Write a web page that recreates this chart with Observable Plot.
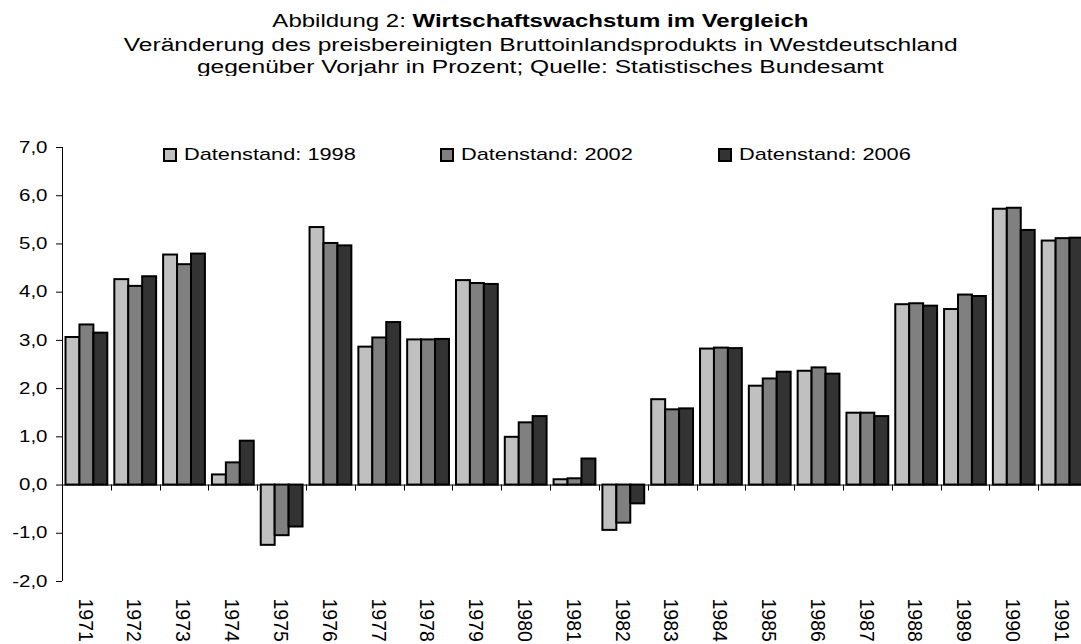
<!DOCTYPE html>
<html><head><meta charset="utf-8">
<script src="https://cdn.jsdelivr.net/npm/d3@7"></script>
<script src="https://cdn.jsdelivr.net/npm/@observablehq/plot@0.6"></script>
<style>
html,body{margin:0;padding:0;background:#fff;overflow:hidden;width:1081px;height:644px;}
body{position:relative;font-family:"Liberation Sans",Arial,sans-serif;color:#000;}
.line{position:absolute;left:0;width:1081px;text-align:center;white-space:nowrap;height:22px;line-height:22px;}
.line span.s{display:inline-block;transform:scaleX(1.28);transform-origin:center;}
#title{top:10px;font-size:18.75px;}
#sub1{top:34px;font-size:19.2px;}
#sub2{top:56px;font-size:19.2px;}
#chart{position:absolute;left:0;top:76px;}
.leg{position:absolute;top:147px;height:16px;display:flex;align-items:center;font-size:17px;white-space:nowrap;}
.leg .sw{width:10px;height:10px;border:2px solid #000;flex:none;}
.leg .tx{display:inline-block;margin-left:7px;transform:scaleX(1.28);transform-origin:left center;}
</style>
</head><body>
<div class="line" id="title"><span class="s">Abbildung 2: <b>Wirtschaftswachstum im Vergleich</b></span></div>
<div class="line" id="sub1"><span class="s">Veränderung des preisbereinigten Bruttoinlandsprodukts in Westdeutschland</span></div>
<div class="line" id="sub2"><span class="s">gegenüber Vorjahr in Prozent; Quelle: Statistisches Bundesamt</span></div>
<div id="chart"></div>
<div id="legend"></div>
<script>
const years = ["1971","1972","1973","1974","1975","1976","1977","1978","1979","1980","1981","1982","1983","1984","1985","1986","1987","1988","1989","1990","1991"];
const series = ["Datenstand: 1998","Datenstand: 2002","Datenstand: 2006"];
const colors = ["#c0c0c0","#808080","#333333"];
const v1998 = [3.06, 4.26, 4.77, 0.21, -1.25, 5.34, 2.86, 3.01, 4.24, 0.99, 0.11, -0.94, 1.77, 2.82, 2.05, 2.36, 1.49, 3.74, 3.64, 5.72, 5.06];
const v2002 = [3.32, 4.12, 4.57, 0.46, -1.05, 5.01, 3.05, 3.01, 4.18, 1.29, 0.13, -0.79, 1.56, 2.84, 2.20, 2.43, 1.49, 3.76, 3.94, 5.74, 5.11];
const v2006 = [3.15, 4.32, 4.79, 0.91, -0.87, 4.96, 3.37, 3.02, 4.16, 1.42, 0.54, -0.39, 1.58, 2.83, 2.34, 2.30, 1.42, 3.71, 3.91, 5.28, 5.12];
const yTicks = [-2, -1, 0, 1, 2, 3, 4, 5, 6, 7];

const values = [v1998, v2002, v2006];
const rows = series.map((s, i) => years.map((yr, j) => ({year: yr, series: s, value: values[i][j]})));

const W = 1088, H = 568, ML = 62, MR = 1, MT = 71, MB = 63;
const step = (W - ML - MR) / years.length;
const pad = 3.5;
const bw = (step - 2 * pad) / 3;
const TS = 1.28;

const frameMark = (index, scales, vals, dims) => {
  const g = d3.create("svg:g").attr("stroke", "#000").attr("stroke-width", 1);
  const x = scales.x, y = scales.y;
  g.append("line").attr("x1", dims.marginLeft + 0.5).attr("x2", dims.marginLeft + 0.5)
    .attr("y1", y(yTicks[yTicks.length - 1])).attr("y2", y(yTicks[0]));
  for (const yr of years.slice(1)) {
    const xx = Math.round(x(yr)) + 0.5;
    g.append("line").attr("x1", xx).attr("x2", xx).attr("y1", y(0)).attr("y2", y(0) + 6);
  }
  return g.node();
};

const chart = Plot.plot({
  width: W, height: H,
  marginLeft: ML, marginRight: MR, marginTop: MT, marginBottom: MB,
  style: {fontFamily: "'Liberation Sans', Arial, sans-serif", fontSize: "16px", color: "#000", background: "#fff", maxWidth: "none", overflow: "visible"},
  x: {type: "band", domain: years, padding: 0, round: false, axis: null},
  y: {domain: [yTicks[0], yTicks[yTicks.length - 1]], axis: null},
  marks: [
    Plot.axisY({ticks: yTicks, tickSize: 6, tickPadding: 9, label: null, fontSize: 16,
      tickFormat: d => d.toFixed(1).replace(".", ",")}),
    Plot.ruleY([0], {stroke: "#000", strokeWidth: 1}),
    ...rows.map((r, i) => Plot.barY(r, {
      x: "year", y: "value", fill: colors[i], stroke: "#000", strokeWidth: 2,
      insetLeft: pad + i * bw, insetRight: pad + (2 - i) * bw
    })),
    frameMark,
    Plot.text(years, {x: d => d, y: yTicks[0], text: d => d, rotate: 90, textAnchor: "start", dy: 17, dx: -2, fontSize: 19.5, fill: "#000", className: "yearlab"})
  ]
});

chart.querySelectorAll("text").forEach(t => {
  if (t.closest(".yearlab")) return;
  const tr = t.getAttribute("transform") || "";
  t.setAttribute("transform", `${tr} scale(${TS},1)`);
});
document.getElementById("chart").appendChild(chart);

const legLeft = [163, 440, 718];
const legend = document.getElementById("legend");
series.forEach((s, i) => {
  const d = document.createElement("div");
  d.className = "leg";
  d.style.left = legLeft[i] + "px";
  d.innerHTML = `<div class="sw" style="background:${colors[i]}"></div><span class="tx">${s}</span>`;
  legend.appendChild(d);
});
</script>
</body></html>
